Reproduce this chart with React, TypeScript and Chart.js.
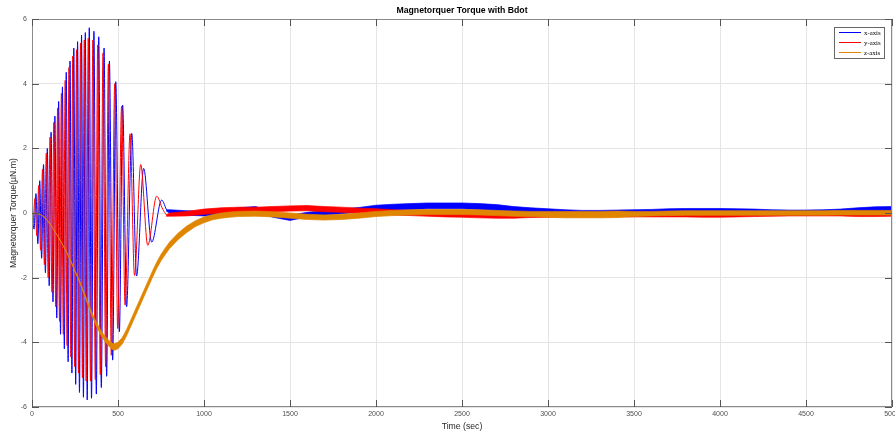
import React, { useEffect, useRef } from "react";
import { Chart, registerables } from "chart.js";

Chart.register(...registerables);

// ---------- text ----------
const TITLE = "Magnetorquer Torque with Bdot";
const X_LABEL = "Time (sec)";
const Y_LABEL = "Magnetorquer Torque(\u00b5N.m)";
const SERIES_NAMES = ["x-axis", "y-axis", "z-axis"];
const SERIES_COLORS = ["#0000ff", "#ff0000", "#df8500"];

// ---------- axes ----------
const X_MIN = 0;
const X_MAX = 5000;
const X_STEP = 500;
const Y_MIN = -6;
const Y_MAX = 6;
const Y_STEP = 2;

// ---------- x-axis torque: oscillation (peaks / troughs) ----------
const X_OSC_T = [0, 12, 23, 34, 45, 56, 67, 78, 89, 100, 111, 122, 133, 144, 155, 166, 177, 188, 199, 210, 221, 232, 243, 254, 265, 276, 288, 299, 310, 321, 333, 346, 360, 374, 388, 403, 419, 434, 450, 469, 487, 508, 527, 550, 580, 608, 649, 696, 754, 785, 805];
const X_OSC_V = [0, -0.5, 0.6, -0.95, 1.0, -1.4, 1.5, -1.85, 2.0, -2.25, 2.5, -2.75, 3.0, -3.25, 3.45, -3.75, 3.9, -4.2, 4.35, -4.6, 4.7, -4.95, 5.1, -5.3, 5.3, -5.55, 5.5, -5.7, 5.58, -5.78, 5.73, -5.73, 5.62, -5.6, 5.45, -5.4, 5.1, -5.05, 4.7, -4.55, 4.06, -3.67, 3.34, -2.9, 2.46, -1.95, 1.38, -0.9, 0.4, 0.08, 0.03];

// ---------- y-axis torque: oscillation ----------
const Y_OSC_T = [0, 6, 17, 28, 39, 50, 61, 72, 83, 94, 105, 116, 127, 138, 149, 160, 171, 182, 193, 204, 215, 226, 237, 248, 259, 270, 282, 293, 304, 315, 327, 340, 354, 368, 382, 397, 413, 428, 444, 461, 481, 498, 521, 541, 570, 596, 632, 673, 725, 760, 790, 805];
const Y_OSC_V = [0, -0.3, 0.45, -0.7, 0.85, -1.15, 1.35, -1.6, 1.85, -2.0, 2.35, -2.45, 2.8, -2.9, 3.25, -3.35, 3.7, -3.75, 4.1, -4.1, 4.5, -4.45, 4.85, -4.75, 5.05, -4.95, 5.25, -5.1, 5.35, -5.2, 5.4, -5.2, 5.35, -5.15, 5.2, -5.0, 4.95, -4.75, 4.6, -4.4, 4.0, -3.57, 3.3, -2.85, 2.45, -1.93, 1.5, -1.0, 0.52, 0.12, -0.08, -0.05];

// ---------- noisy steady-state bands (centre and half-width) ----------
const BAND_T = [780, 800, 900, 1000, 1100, 1200, 1300, 1400, 1500, 1600, 1700, 1800, 1900, 2000, 2100, 2200, 2300, 2400, 2500, 2600, 2700, 2800, 2900, 3000, 3100, 3200, 3300, 3400, 3500, 3600, 3700, 3800, 3900, 4000, 4100, 4200, 4300, 4400, 4500, 4600, 4700, 4800, 4900, 5000];
const X_BAND_C = [0.08, 0.05, 0.0, -0.02, 0.0, 0.08, 0.12, -0.05, -0.15, -0.05, 0.0, 0.05, 0.1, 0.15, 0.18, 0.2, 0.22, 0.22, 0.22, 0.2, 0.17, 0.12, 0.08, 0.05, 0.03, 0.02, 0.02, 0.03, 0.04, 0.05, 0.07, 0.08, 0.08, 0.08, 0.07, 0.06, 0.04, 0.03, 0.03, 0.04, 0.06, 0.09, 0.12, 0.13];
const X_BAND_W = [0.02, 0.05, 0.07, 0.07, 0.07, 0.08, 0.08, 0.08, 0.08, 0.07, 0.07, 0.07, 0.07, 0.09, 0.09, 0.09, 0.09, 0.09, 0.09, 0.09, 0.09, 0.08, 0.08, 0.08, 0.07, 0.06, 0.06, 0.06, 0.06, 0.06, 0.06, 0.06, 0.06, 0.06, 0.06, 0.06, 0.06, 0.06, 0.06, 0.06, 0.06, 0.07, 0.07, 0.07];
const Y_BAND_C = [-0.08, -0.05, -0.02, 0.04, 0.08, 0.1, 0.1, 0.12, 0.14, 0.15, 0.12, 0.1, 0.07, 0.05, 0.02, 0.0, -0.02, -0.04, -0.05, -0.07, -0.08, -0.08, -0.07, -0.06, -0.05, -0.05, -0.05, -0.05, -0.05, -0.05, -0.05, -0.05, -0.06, -0.06, -0.05, -0.04, -0.03, -0.02, -0.02, -0.02, -0.02, -0.03, -0.03, -0.02];
const Y_BAND_W = [0.02, 0.05, 0.07, 0.08, 0.08, 0.08, 0.08, 0.08, 0.08, 0.08, 0.08, 0.08, 0.08, 0.08, 0.08, 0.08, 0.08, 0.08, 0.08, 0.08, 0.08, 0.08, 0.07, 0.07, 0.07, 0.07, 0.07, 0.07, 0.07, 0.07, 0.07, 0.07, 0.07, 0.07, 0.07, 0.07, 0.07, 0.07, 0.07, 0.07, 0.07, 0.08, 0.08, 0.08];

// ---------- z-axis torque (centre and half-width of noisy trace) ----------
const Z_T = [0, 25, 50, 75, 100, 125, 150, 175, 200, 225, 250, 275, 300, 325, 350, 375, 400, 425, 450, 475, 500, 525, 550, 575, 600, 625, 650, 675, 700, 725, 750, 775, 800, 850, 900, 950, 1000, 1050, 1100, 1150, 1200, 1300, 1400, 1500, 1600, 1700, 1800, 1900, 2000, 2100, 2200, 2300, 2400, 2500, 2600, 2700, 2800, 2900, 3000, 3100, 3200, 3300, 3400, 3500, 3600, 3700, 3800, 3900, 4000, 4100, 4200, 4300, 4400, 4500, 4600, 4700, 4800, 4900, 5000];
const Z_C = [0, -0.01, -0.05, -0.14, -0.3, -0.5, -0.72, -0.95, -1.2, -1.48, -1.8, -2.1, -2.45, -2.8, -3.15, -3.45, -3.7, -3.9, -4.05, -4.15, -4.1, -3.95, -3.7, -3.4, -3.1, -2.8, -2.5, -2.2, -1.9, -1.62, -1.38, -1.18, -1.0, -0.72, -0.5, -0.33, -0.21, -0.13, -0.08, -0.05, -0.03, -0.02, -0.04, -0.08, -0.12, -0.14, -0.12, -0.08, -0.03, 0.0, 0.02, 0.03, 0.03, 0.03, 0.02, 0.0, -0.02, -0.03, -0.04, -0.05, -0.05, -0.05, -0.04, -0.03, -0.02, -0.01, 0.0, 0.0, 0.0, 0.0, 0.0, 0.0, 0.0, 0.0, 0.0, 0.01, 0.01, 0.01, 0.01];
const Z_W = [0.005, 0.005, 0.005, 0.005, 0.005, 0.005, 0.005, 0.005, 0.01, 0.015, 0.02, 0.025, 0.03, 0.04, 0.05, 0.06, 0.07, 0.08, 0.09, 0.1, 0.1, 0.1, 0.1, 0.1, 0.1, 0.1, 0.1, 0.1, 0.1, 0.1, 0.1, 0.1, 0.1, 0.1, 0.1, 0.09, 0.09, 0.08, 0.08, 0.08, 0.08, 0.08, 0.08, 0.08, 0.08, 0.08, 0.08, 0.08, 0.08, 0.08, 0.08, 0.08, 0.08, 0.08, 0.08, 0.08, 0.08, 0.08, 0.09, 0.1, 0.1, 0.1, 0.1, 0.08, 0.07, 0.07, 0.07, 0.07, 0.07, 0.07, 0.07, 0.07, 0.07, 0.07, 0.07, 0.07, 0.07, 0.07, 0.07];

const SANS = '"Liberation Sans", Arial, sans-serif';
const SERIF = '"Liberation Serif", "Times New Roman", serif';

const pts = (T: number[], V: number[]) => T.map((t, i) => ({ x: t, y: V[i] }));
const edge = (T: number[], C: number[], W: number[], s: number) =>
  T.map((t, i) => ({ x: t, y: C[i] + s * W[i] }));

const decor = {
  id: "matlabDecor",
  afterDraw(chart: any) {
    const { ctx, chartArea: a, scales } = chart;
    const xs = scales.x;
    const ys = scales.y;
    ctx.save();
    // box
    ctx.strokeStyle = "#8a8a8a";
    ctx.lineWidth = 1;
    ctx.strokeRect(a.left + 0.5, a.top + 0.5, a.right - a.left - 1, a.bottom - a.top - 1);
    // inward ticks
    ctx.strokeStyle = "#555555";
    ctx.beginPath();
    const TL = 7;
    for (let v = X_MIN; v <= X_MAX; v += X_STEP) {
      const px = Math.round(xs.getPixelForValue(v)) + 0.5;
      ctx.moveTo(px, a.bottom);
      ctx.lineTo(px, a.bottom - TL);
      ctx.moveTo(px, a.top);
      ctx.lineTo(px, a.top + TL);
    }
    for (let v = Y_MIN; v <= Y_MAX; v += Y_STEP) {
      const py = Math.round(ys.getPixelForValue(v)) + 0.5;
      ctx.moveTo(a.left, py);
      ctx.lineTo(a.left + TL, py);
      ctx.moveTo(a.right, py);
      ctx.lineTo(a.right - TL, py);
    }
    ctx.stroke();
    // title
    const cx = (a.left + a.right) / 2;
    ctx.fillStyle = "#000";
    ctx.textAlign = "center";
    ctx.textBaseline = "middle";
    ctx.font = `bold 8.7px ${SANS}`;
    ctx.fillText(TITLE, cx, 11);
    // x label
    ctx.fillStyle = "#262626";
    ctx.font = `8.7px ${SANS}`;
    ctx.fillText(X_LABEL, cx, 427);
    // y label
    ctx.save();
    ctx.translate(14, (a.top + a.bottom) / 2);
    ctx.rotate(-Math.PI / 2);
    ctx.fillText(Y_LABEL, 0, 0);
    ctx.restore();
    // legend
    const lx = 834, ly = 27, lw = 51, lh = 32;
    ctx.fillStyle = "#fff";
    ctx.fillRect(lx, ly, lw, lh);
    ctx.strokeStyle = "#666";
    ctx.strokeRect(lx + 0.5, ly + 0.5, lw - 1, lh - 1);
    ctx.font = `6.8px ${SERIF}`;
    ctx.textAlign = "left";
    SERIES_NAMES.forEach((name, i) => {
      const y = 32.5 + i * 10;
      ctx.strokeStyle = SERIES_COLORS[i];
      ctx.beginPath();
      ctx.moveTo(839, y);
      ctx.lineTo(861, y);
      ctx.stroke();
      ctx.fillStyle = "#000";
      ctx.fillText(name, 864, y + 0.5);
    });
    ctx.restore();
  },
};

export default function App() {
  const ref = useRef<HTMLCanvasElement | null>(null);
  useEffect(() => {
    document.body.style.margin = "0";
    const lineBase = {
      pointRadius: 0,
      borderWidth: 1,
      fill: false,
    };
    const osc = (T: number[], V: number[], c: number, order: number) => ({
      ...lineBase,
      label: SERIES_NAMES[c],
      data: pts(T, V),
      borderColor: SERIES_COLORS[c],
      borderWidth: 1,
      cubicInterpolationMode: "monotone" as const,
      order,
    });
    const band = (T: number[], C: number[], W: number[], c: number, order: number) => [
      {
        ...lineBase,
        label: SERIES_NAMES[c] + " upper",
        data: edge(T, C, W, 1),
        borderColor: SERIES_COLORS[c],
        borderWidth: 0.7,
        tension: 0,
        order,
      },
      {
        ...lineBase,
        label: SERIES_NAMES[c] + " lower",
        data: edge(T, C, W, -1),
        borderColor: SERIES_COLORS[c],
        backgroundColor: SERIES_COLORS[c],
        borderWidth: 0.7,
        tension: 0,
        fill: "-1",
        order,
      },
    ];
    const datasets: any[] = [
      osc(X_OSC_T, X_OSC_V, 0, 3),
      ...band(BAND_T, X_BAND_C, X_BAND_W, 0, 3),
      osc(Y_OSC_T, Y_OSC_V, 1, 2),
      ...band(BAND_T, Y_BAND_C, Y_BAND_W, 1, 2),
      ...band(Z_T, Z_C, Z_W, 2, 1),
    ];
    const tickFont = { family: SANS, size: 7 };
    const plain = (v: any) => String(v);
    const chart = new Chart(ref.current!, {
      type: "line",
      data: { datasets },
      options: {
        animation: false,
        responsive: false,
        devicePixelRatio: 1,
        layout: { padding: { top: 19, right: 3, left: 0, bottom: 0 } },
        plugins: {
          legend: { display: false },
          title: { display: false },
          tooltip: { enabled: false },
        },
        scales: {
          x: {
            type: "linear",
            min: X_MIN,
            max: X_MAX,
            ticks: { stepSize: X_STEP, font: tickFont, color: "#4d4d4d", padding: 3, maxRotation: 0, autoSkip: false, callback: plain },
            grid: { color: "#e4e4e4", drawTicks: false },
            border: { display: false },
            afterFit: (s: any) => {
              s.height = 29;
              s.paddingLeft = 0;
              s.paddingRight = 0;
            },
          },
          y: {
            type: "linear",
            min: Y_MIN,
            max: Y_MAX,
            ticks: { stepSize: Y_STEP, font: tickFont, color: "#4d4d4d", padding: 5, callback: plain },
            grid: { color: "#e4e4e4", drawTicks: false },
            border: { display: false },
            afterFit: (s: any) => {
              s.width = 32;
              s.paddingTop = 0;
              s.paddingBottom = 0;
            },
          },
        },
      },
      plugins: [decor],
    });
    return () => chart.destroy();
  }, []);
  return (
    <div style={{ width: 895, height: 436 }}>
      <canvas ref={ref} width={895} height={436} style={{ display: "block", width: 895, height: 436 }} />
    </div>
  );
}
